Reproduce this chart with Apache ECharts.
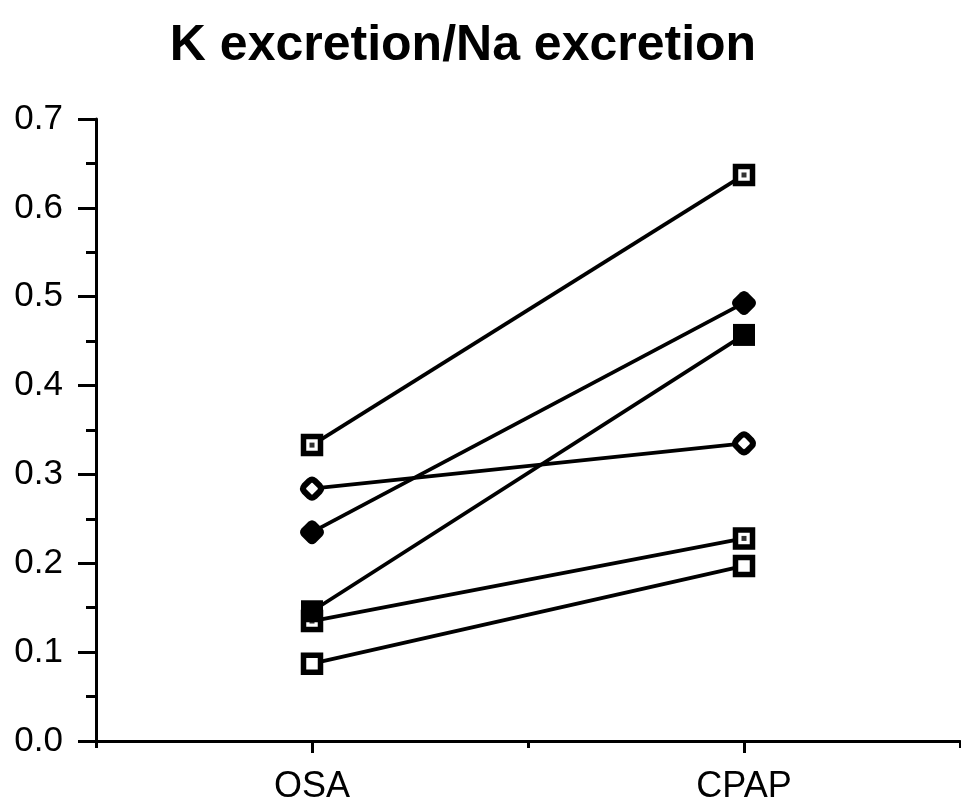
<!DOCTYPE html>
<html>
<head>
<meta charset="utf-8">
<script src="https://cdn.jsdelivr.net/npm/echarts@6/dist/echarts.min.js"></script>
<style>
  html, body { margin: 0; padding: 0; background: #fff; }
  #chart { width: 961px; height: 806px; }
</style>
</head>
<body>
<div id="chart"></div>
<script>
// Conditions on the x axis
const categories = ['OSA', 'CPAP'];

// K excretion / Na excretion per subject, [OSA, CPAP]
const subjectA = [0.333, 0.637];
const subjectB = [0.284, 0.335];
const subjectC = [0.235, 0.493];
const subjectE = [0.135, 0.228];
const subjectD = [0.146, 0.457];
const subjectF = [0.087, 0.197];

// y-axis ticks
const yMin = 0, yMax = 0.7, yStep = 0.1;

// Rounded diamond outline
const DIAMOND = 'path://M7 1.5Q10 -1 13 1.5L18.5 7Q21 10 18.5 13L13 18.5Q10 21 7 18.5L1.5 13Q-1 10 1.5 7Z';

// marker styles
const OPEN_SQUARE = { symbol: 'rect', size: 17, fill: '#fff', border: 5.5 };
const FILLED_SQUARE = { symbol: 'rect', size: 22, fill: '#000', border: 0 };
const OPEN_DIAMOND = { symbol: DIAMOND, size: 18, fill: '#fff', border: 6 };
const FILLED_DIAMOND = { symbol: DIAMOND, size: 24, fill: '#000', border: 0 };

function subject(name, data, mark) {
  return {
    name: name,
    type: 'line',
    data: data,
    symbol: mark.symbol,
    symbolSize: mark.size,
    showSymbol: true,
    lineStyle: { color: '#000', width: 3.8 },
    itemStyle: { color: mark.fill, borderColor: '#000', borderWidth: mark.border },
    emphasis: { disabled: true },
    z: 3
  };
}

// small centre dot of the dotted squares
function centreDot(name, data) {
  return {
    name: name + ' dot',
    type: 'scatter',
    data: data,
    symbol: 'rect',
    symbolSize: 5,
    itemStyle: { color: '#000' },
    emphasis: { disabled: true },
    z: 4
  };
}

const chart = echarts.init(document.getElementById('chart'), null, { renderer: 'canvas' });
chart.setOption({
  animation: false,
  backgroundColor: '#fff',
  title: {
    text: 'K excretion/Na excretion',
    left: 458,
    top: 16,
    textAlign: 'center',
    textStyle: {
      fontFamily: '"Liberation Sans", Arial, sans-serif',
      fontWeight: 'bold',
      fontSize: 50,
      color: '#000'
    }
  },
  grid: { left: 96, right: 1, top: 119, bottom: 65, containLabel: false },
  xAxis: [
    {
      type: 'category',
      data: categories,
      boundaryGap: true,
      axisLine: { show: true, lineStyle: { color: '#000', width: 3 } },
      axisTick: { show: true, alignWithLabel: true, length: 12, lineStyle: { color: '#000', width: 3 } },
      axisLabel: {
        margin: 28,
        color: '#000',
        fontSize: 36,
        fontFamily: '"Liberation Sans", Arial, sans-serif'
      },
      splitLine: { show: false }
    },
    {
      // short tick between the two conditions
      type: 'value',
      min: 0, max: 4, interval: 2,
      position: 'bottom',
      axisLine: { show: false },
      axisTick: { show: true, length: 7, lineStyle: { color: '#000', width: 3 } },
      axisLabel: { show: false },
      splitLine: { show: false }
    }
  ],
  yAxis: {
    type: 'value',
    min: yMin, max: yMax, interval: yStep,
    axisLine: { show: true, lineStyle: { color: '#000', width: 3 } },
    axisTick: { show: true, length: 18, lineStyle: { color: '#000', width: 3 } },
    minorTick: { show: true, splitNumber: 2, length: 10, lineStyle: { color: '#000', width: 3 } },
    axisLabel: {
      margin: 33,
      color: '#000',
      fontSize: 35,
      fontFamily: '"Liberation Sans", Arial, sans-serif',
      formatter: v => v.toFixed(1)
    },
    splitLine: { show: false }
  },
  series: [
    subject('A', subjectA, OPEN_SQUARE),
    centreDot('A', subjectA),
    subject('B', subjectB, OPEN_DIAMOND),
    subject('C', subjectC, FILLED_DIAMOND),
    subject('E', subjectE, OPEN_SQUARE),
    centreDot('E', subjectE),
    subject('D', subjectD, FILLED_SQUARE),
    subject('F', subjectF, OPEN_SQUARE)
  ]
});
</script>
</body>
</html>
